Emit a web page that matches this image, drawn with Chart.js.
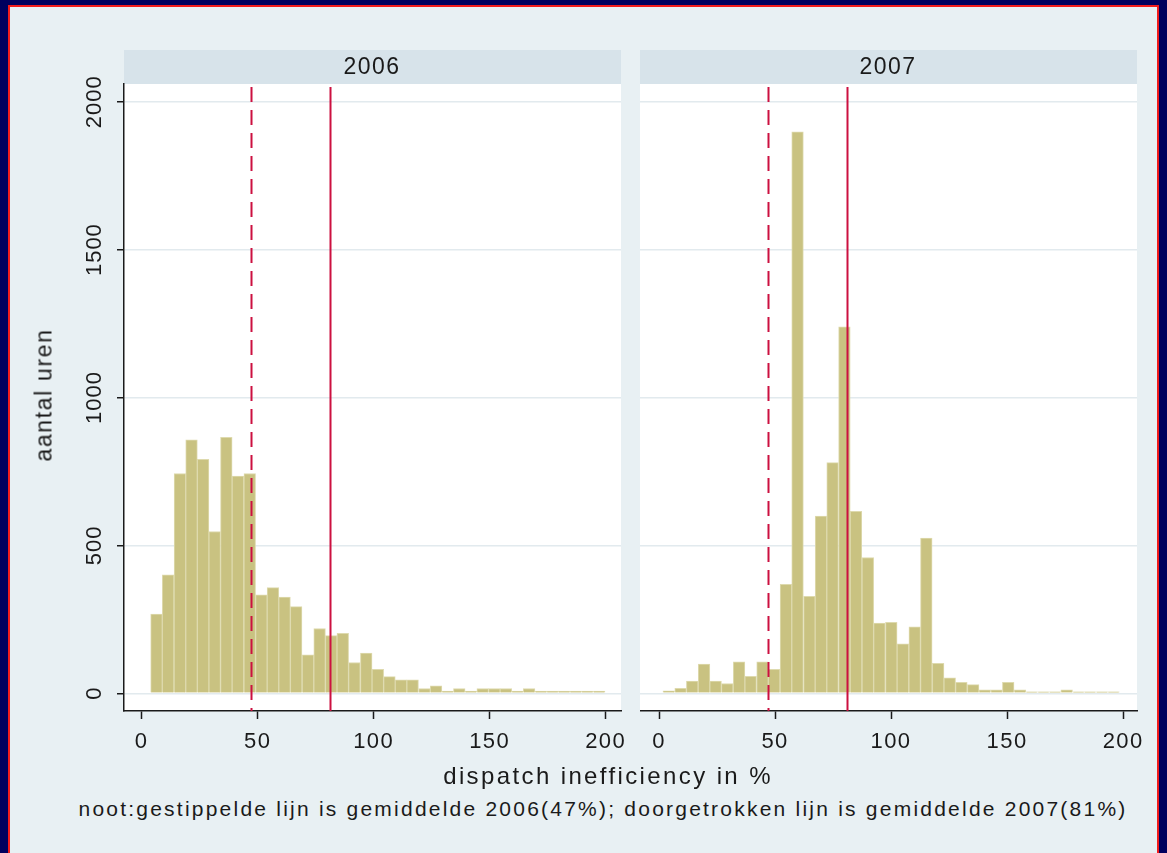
<!DOCTYPE html>
<html>
<head>
<meta charset="utf-8">
<script src="https://cdn.jsdelivr.net/npm/chart.js@4.4.1/dist/chart.umd.min.js"></script>
<style>
  html, body { margin: 0; padding: 0; }
  body {
    width: 1167px; height: 853px; overflow: hidden; position: relative;
    background: #00005e; font-family: "Liberation Sans", Arial, sans-serif; color: #1a1a1a;
  }
  #frame {
    position: absolute; left: 8px; top: 5px; width: 1151px; height: 870px;
    background: #e8f0f3; border: 2px solid #f21c1c; border-bottom: none; box-sizing: border-box;
  }
  .strip { position: absolute; top: 50px; height: 34px; background: #d7e3ea; }
  .wrap { position: absolute; }
  .txt {
    position: absolute; white-space: nowrap; display: inline-block;
    transform: translate(-50%, -50%); line-height: 1;
  }
</style>
</head>
<body>
<div id="frame"></div>
<div class="strip" style="left:124px; width:497px;"></div>
<div class="strip" style="left:640px; width:497px;"></div>

<div class="wrap" style="left:0; top:40px;"><canvas id="left" width="640" height="724"></canvas></div>
<div class="wrap" style="left:640px; top:40px;"><canvas id="right" width="527" height="724"></canvas></div>

<span class="txt fit" data-w="57" style="left:372px; top:66px; font-size:23px;">2006</span>
<span class="txt fit" data-w="57" style="left:888px; top:66px; font-size:23px;">2007</span>
<span class="txt fit" data-w="133" data-rot="1" style="left:44px; top:395px; font-size:23px;">aantal uren</span>
<span class="txt fit" data-w="330" style="left:608px; top:776px; font-size:24px;">dispatch inefficiency in %</span>
<span class="txt fit" data-w="1049" style="left:603px; top:808px; font-size:21px;">noot:gestippelde lijn is gemiddelde 2006(47%); doorgetrokken lijn is gemiddelde 2007(81%)</span>

<script>
// histogram bins (bin centres, %) and counts (hours)
const bins2006 = [6.4, 11.4, 16.5, 21.5, 26.5, 31.5, 36.5, 41.5, 46.6, 51.6, 56.6, 61.6, 66.6,
  71.7, 76.7, 81.7, 86.7, 91.7, 96.8, 101.8, 106.8, 111.8, 116.8, 121.9, 126.9, 131.9,
  136.9, 141.9, 147.0, 152.0, 157.0, 162.0, 167.0, 172.1, 177.1, 182.1, 187.1, 192.1, 197.2];
const counts2006 = [268, 400, 743, 857, 791, 547, 865, 734, 743, 333, 357, 325, 293,
  130, 219, 195, 203, 104, 136, 81, 56, 45, 45, 16, 25, 7,
  16, 7, 16, 16, 16, 7, 16, 7, 7, 7, 7, 7, 7];

const bins2007 = [4.2, 9.3, 14.3, 19.4, 24.4, 29.4, 34.5, 39.5, 44.6, 49.6, 54.7, 59.7, 64.8,
  69.8, 74.8, 79.9, 84.9, 90.0, 95.0, 100.1, 105.1, 110.2, 115.2, 120.3, 125.3, 130.3,
  135.4, 140.4, 145.5, 150.5, 155.6, 160.6, 165.7, 170.7, 175.7, 180.8, 185.8, 190.9, 195.9];
const counts2007 = [8, 17, 41, 99, 41, 33, 106, 57, 106, 81, 368, 1898, 328,
  599, 780, 1239, 615, 459, 237, 240, 167, 225, 525, 101, 52, 37,
  29, 12, 12, 37, 12, 5, 5, 5, 12, 5, 5, 5, 5];

const xTicks = [0, 50, 100, 150, 200];
const yTicks = [0, 500, 1000, 1500, 2000];
const mean2006 = 47; // dashed
const mean2007 = 81; // solid

const FONT = "Liberation Sans";
const INK = "#1a1a1a";

// letter-spacing so the text fills the width it has in the picture
document.querySelectorAll(".fit").forEach((el) => {
  el.style.letterSpacing = "0px";
  const natural = el.offsetWidth;
  const n = el.textContent.length;
  el.style.letterSpacing = (Number(el.dataset.w) - natural) / n + "px";
  if (el.dataset.rot) el.style.transform = "translate(-50%, -50%) rotate(-90deg)";
});

const plotBg = {
  id: "plotBg",
  beforeDraw(chart) {
    const { ctx, chartArea: a } = chart;
    ctx.save();
    ctx.fillStyle = "#ffffff";
    ctx.fillRect(a.left, a.top, a.right - a.left, a.bottom - a.top);
    ctx.restore();
    ctx.letterSpacing = "1.4px";
  },
};

const meanLines = {
  id: "meanLines",
  afterDatasetsDraw(chart) {
    const { ctx, chartArea: a } = chart;
    const x = chart.scales.x;
    [[mean2006, [15, 8]], [mean2007, []]].forEach(([v, dash]) => {
      const px = Math.round(x.getPixelForValue(v)) + 0.5;
      ctx.save();
      ctx.strokeStyle = "#cc1040";
      ctx.lineWidth = 2;
      ctx.setLineDash(dash);
      ctx.beginPath();
      ctx.moveTo(px, a.top + 3);
      ctx.lineTo(px, a.bottom);
      ctx.stroke();
      ctx.restore();
    });
  },
};

// y tick labels, turned a quarter, as in the picture
const yLabels = {
  id: "yLabels",
  afterDraw(chart) {
    const { ctx } = chart;
    const y = chart.scales.y;
    ctx.save();
    ctx.fillStyle = INK;
    ctx.font = "22px '" + FONT + "'";
    ctx.letterSpacing = "1px";
    ctx.textAlign = "center";
    ctx.textBaseline = "middle";
    yTicks.forEach((v) => {
      ctx.save();
      ctx.translate(95, y.getPixelForValue(v));
      ctx.rotate(-Math.PI / 2);
      ctx.fillText(String(v), 0, 0);
      ctx.restore();
    });
    ctx.restore();
  },
};

function makeChart(id, bins, counts, xMin, xMax, withAxis) {
  return new Chart(document.getElementById(id), {
    type: "bar",
    data: {
      datasets: [
        {
          data: bins.map((b, i) => ({ x: b, y: counts[i] })),
          backgroundColor: "#c9c281",
          borderColor: "#dedaae",
          borderWidth: 1,
          barPercentage: 1,
          categoryPercentage: 1,
        },
      ],
    },
    options: {
      responsive: false,
      animation: false,
      layout: { padding: { top: 44, left: 0, bottom: 0, right: withAxis ? 19 : 30 } },
      plugins: { legend: { display: false }, tooltip: { enabled: false } },
      scales: {
        x: {
          type: "linear",
          min: xMin,
          max: xMax,
          offset: false,
          afterBuildTicks: (s) => { s.ticks = xTicks.map((v) => ({ value: v })); },
          afterFit: (s) => { s.height = 53; },
          grid: { offset: false, drawOnChartArea: false, tickLength: 8, tickColor: INK, tickWidth: 1.5 },
          border: { color: INK, width: 1.5 },
          ticks: { color: INK, font: { family: FONT, size: 22 }, padding: 10, maxRotation: 0 },
        },
        y: {
          min: -60,
          max: 2060,
          afterBuildTicks: (s) => { s.ticks = yTicks.map((v) => ({ value: v })); },
          afterFit: (s) => { s.width = withAxis ? 124 : 0; },
          grid: { color: "#e2eaee", lineWidth: 1.5, drawTicks: withAxis, tickLength: 7, tickColor: INK, tickWidth: 1.5 },
          border: { display: withAxis, color: INK, width: 1.5 },
          ticks: { display: false },
        },
      },
    },
    plugins: withAxis ? [plotBg, meanLines, yLabels] : [plotBg, meanLines],
  });
}

makeChart("left", bins2006, counts2006, -7.6, 206.6, true);
makeChart("right", bins2007, counts2007, -8.2, 206.0, false);
</script>
</body>
</html>
